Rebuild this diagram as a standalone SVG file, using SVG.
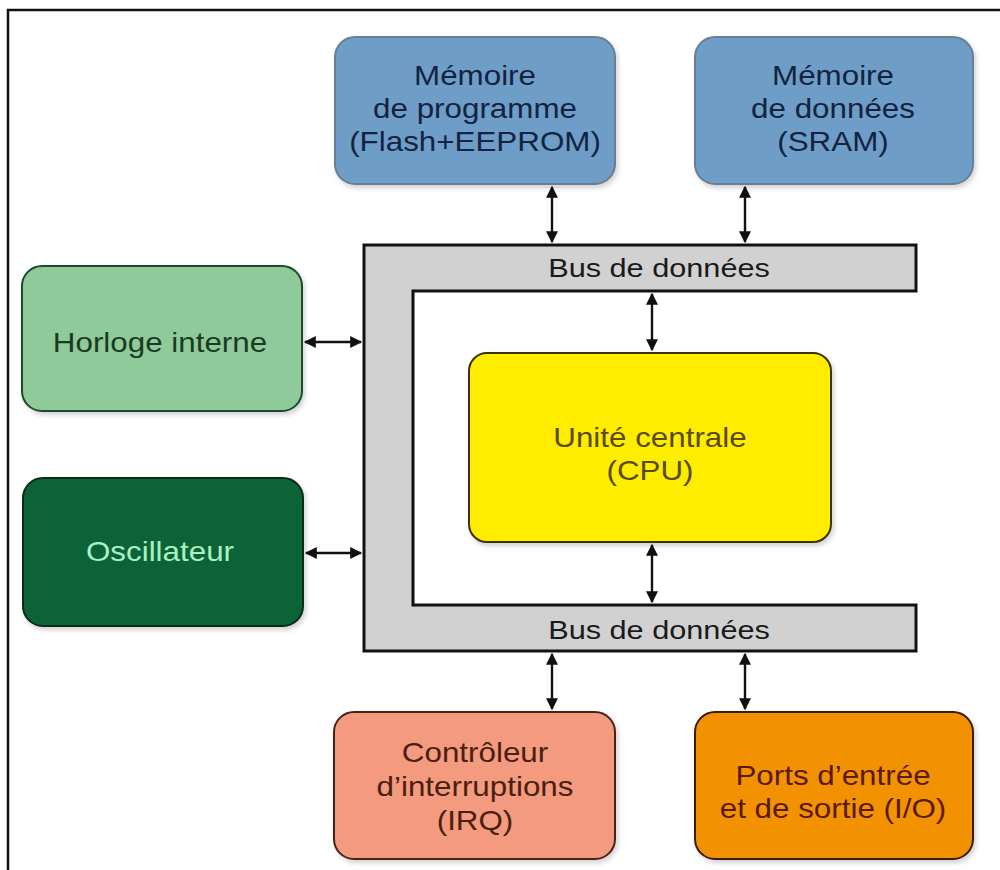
<svg xmlns="http://www.w3.org/2000/svg" width="1000" height="870" viewBox="0 0 1000 870">
<defs>
<marker id="ah" viewBox="0 0 10 10" refX="9" refY="5" markerWidth="5.5" markerHeight="5" orient="auto-start-reverse" markerUnits="strokeWidth">
<path d="M0,0 L10,5 L0,10 z" fill="#111"/>
</marker>
<filter id="sh" x="-10%" y="-10%" width="125%" height="125%">
<feDropShadow dx="2" dy="3" stdDeviation="2.5" flood-color="#000" flood-opacity="0.18"/>
</filter>
</defs>
<style>
text{font-family:"Liberation Sans",Arial,sans-serif;font-size:28px;text-anchor:middle}
.box{stroke-width:2;filter:url(#sh)}
.blue{fill:#6e9dc8;stroke:#6a7e92}
.blue-t{fill:#14233f}
.bus{fill:#d1d1d1;stroke:#111;stroke-width:3}
.bus-t{fill:#1a1a1a;font-size:26px}
.conn{stroke:#111;stroke-width:2.4;fill:none;marker-start:url(#ah);marker-end:url(#ah)}
</style>
<rect width="1000" height="870" fill="#fff"/>
<path d="M8,870 L8,10 L1000,10" fill="none" stroke="#111" stroke-width="2.5"/>

<g id="bus">
<path class="bus" d="M364,245 L916,245 L916,291 L413,291 L413,605 L916,605 L916,651 L364,651 Z"/>
<text class="bus-t" transform="translate(659 277) scale(1.18 1)">Bus de données</text>
<text class="bus-t" transform="translate(659 639) scale(1.18 1)">Bus de données</text>
</g>

<g id="mem-prog">
<rect class="box blue" x="335" y="37" width="280" height="147" rx="20"/>
<text class="blue-t" transform="translate(475 85) scale(1.12 1)">Mémoire</text>
<text class="blue-t" transform="translate(475 118) scale(1.12 1)">de programme</text>
<text class="blue-t" transform="translate(475 151) scale(1.12 1)">(Flash+EEPROM)</text>
</g>

<g id="mem-data">
<rect class="box blue" x="695" y="37" width="278" height="147" rx="20"/>
<text class="blue-t" transform="translate(833 85) scale(1.12 1)">Mémoire</text>
<text class="blue-t" transform="translate(833 118) scale(1.12 1)">de données</text>
<text class="blue-t" transform="translate(833 151) scale(1.12 1)">(SRAM)</text>
</g>

<g id="horloge">
<rect class="box" x="22" y="266" width="280" height="145" rx="20" fill="#8fca9b" stroke="#1f4a2a"/>
<text fill="#1b3a22" transform="translate(160 352) scale(1.12 1)">Horloge interne</text>
</g>

<g id="oscillateur">
<rect class="box" x="23" y="478" width="280" height="148" rx="20" fill="#0d6337" stroke="#0a2a18"/>
<text fill="#a9f0c4" transform="translate(160 561) scale(1.12 1)">Oscillateur</text>
</g>

<g id="cpu">
<rect class="box" x="469" y="353" width="362" height="189" rx="18" fill="#ffed00" stroke="#3a3000"/>
<text fill="#5a4a12" transform="translate(650 447) scale(1.12 1)">Unité centrale</text>
<text fill="#5a4a12" transform="translate(650 480) scale(1.12 1)">(CPU)</text>
</g>

<g id="irq">
<rect class="box" x="334" y="712" width="281" height="147" rx="20" fill="#f39a7f" stroke="#4a2418"/>
<text fill="#4a2012" transform="translate(475 762) scale(1.12 1)">Contrôleur</text>
<text fill="#4a2012" transform="translate(475 796) scale(1.12 1)">d’interruptions</text>
<text fill="#4a2012" transform="translate(475 830) scale(1.12 1)">(IRQ)</text>
</g>

<g id="io">
<rect class="box" x="695" y="712" width="278" height="147" rx="20" fill="#f39200" stroke="#3a1a08"/>
<text fill="#5a1a12" transform="translate(833 785) scale(1.12 1)">Ports d’entrée</text>
<text fill="#5a1a12" transform="translate(833 818) scale(1.12 1)">et de sortie (I/O)</text>
</g>

<g id="connectors">
<line class="conn" x1="552" y1="187" x2="552" y2="242"/>
<line class="conn" x1="745" y1="187" x2="745" y2="242"/>
<line class="conn" x1="652" y1="294" x2="652" y2="350"/>
<line class="conn" x1="652" y1="545" x2="652" y2="602"/>
<line class="conn" x1="552" y1="654" x2="552" y2="709"/>
<line class="conn" x1="745" y1="654" x2="745" y2="709"/>
<line class="conn" x1="305" y1="342" x2="361" y2="342"/>
<line class="conn" x1="306" y1="553" x2="361" y2="553"/>
</g>
</svg>
